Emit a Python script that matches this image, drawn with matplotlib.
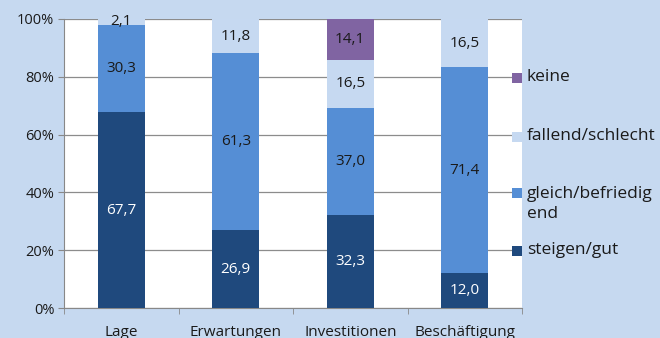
import matplotlib
matplotlib.use("Agg")
import matplotlib.pyplot as plt
from matplotlib.patches import Rectangle
import numpy as np

categories = ["Lage", "Erwartungen", "Investitionen", "Beschäftigung"]
series_names = ["steigen/gut", "gleich/befriedig\nend", "fallend/schlecht", "keine"]
steigen = [67.7, 26.9, 32.3, 12.0]
gleich = [30.3, 61.3, 37.0, 71.4]
fallend = [2.1, 11.8, 16.5, 16.5]
keine = [0.0, 0.0, 14.1, 0.0]
yticks = [0, 20, 40, 60, 80, 100]

colors = ["#1F497D", "#558ED5", "#C6D9F1", "#8064A2"]
text_colors = ["white", "#1a1a1a", "#1a1a1a", "#1a1a1a"]
bg = "#C6D9F0"

plt.rcParams["font.family"] = ["Open Sans", "DejaVu Sans"]

fig = plt.figure(figsize=(6.6, 3.38), dpi=100, facecolor=bg)
ax = fig.add_axes([64 / 660, 30 / 338, 458 / 660, 289 / 338])
ax.set_facecolor("white")

x = np.arange(len(categories))
bottom = np.zeros(len(categories))
for vals, col, tcol in zip([steigen, gleich, fallend, keine], colors, text_colors):
    vals = np.array(vals)
    ax.bar(x, vals, width=0.41, bottom=bottom, color=col, zorder=3)
    for xi, v, b in zip(x, vals, bottom):
        if v > 0:
            ax.text(xi, b + v / 2, f"{v:.1f}".replace(".", ","), ha="center",
                    va="center", fontsize=11, color=tcol, zorder=4)
    bottom += vals

ax.set_xlim(-0.5, len(categories) - 0.5)
ax.set_ylim(0, 100)
ax.set_yticks(yticks)
ax.set_yticklabels([f"{t}%" for t in yticks], fontsize=10.5, color="#1a1a1a")
ax.set_xticks(x)
ax.set_xticklabels(categories, fontsize=11, color="#1a1a1a")
ax.tick_params(axis="x", length=0, pad=12)
ax.set_xticks(np.arange(-0.5, len(categories)), minor=True)
ax.tick_params(axis="x", which="minor", length=4, color="#888888")
ax.tick_params(axis="y", length=4, color="#888888", pad=3)
ax.yaxis.grid(True, color="#8c8c8c", linewidth=0.9, zorder=0)
for s in ["top", "right"]:
    ax.spines[s].set_visible(False)
for s in ["left", "bottom"]:
    ax.spines[s].set_color("#888888")

# legend, drawn in figure pixel coordinates
W, H = 660, 338
legend_y = [78, 137, 193, 251]
legend_order = [3, 2, 1, 0]
for yy, idx in zip(legend_y, legend_order):
    fig.patches.append(Rectangle((512 / W, (H - yy - 5) / H), 10 / W, 10 / H,
                                 transform=fig.transFigure, facecolor=colors[idx],
                                 edgecolor="none", zorder=5))
    name = series_names[idx]
    if "\n" in name:
        fig.text(527 / W, (H - yy + 7) / H, name, fontsize=12.5, color="#1a1a1a",
                 va="top", ha="left", linespacing=1.3)
    else:
        fig.text(527 / W, (H - yy + 1) / H, name, fontsize=12.5, color="#1a1a1a",
                 va="center", ha="left")

fig.savefig("out.png", dpi=100, facecolor=bg)
